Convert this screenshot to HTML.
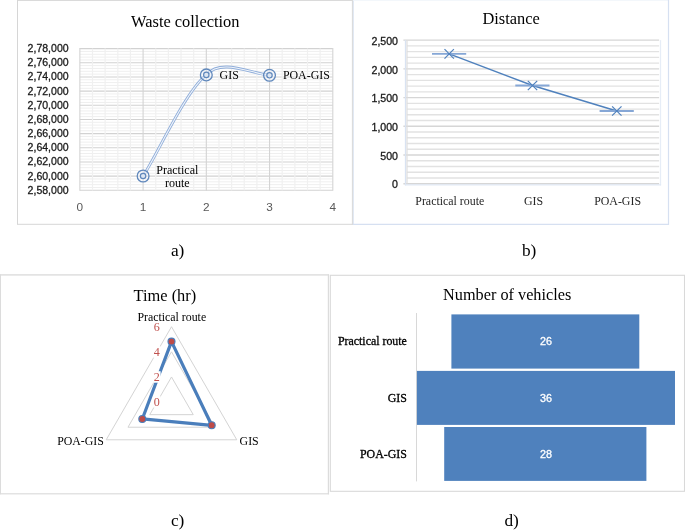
<!DOCTYPE html>
<html lang="en"><head><meta charset="utf-8"><title>Figure</title>
<style>html,body{margin:0;padding:0;background:#fff;}body{width:685px;height:530px;overflow:hidden;}svg{display:block;}.s{font-family:"Liberation Serif",serif;}.n{font-family:"Liberation Sans",sans-serif;}</style></head><body>
<svg width="685" height="530" viewBox="0 0 685 530">
<rect width="685" height="530" fill="#fff"/>
<g id="chart-a">
<path d="M17.5,0.4 H352.4 M17.5,0 V224.3 M17,224.3 H352.9 M352.4,0 V224.8" fill="none" stroke="#d6d6d6" stroke-width="1"/>
<line x1="79.85" y1="48.60" x2="332.80" y2="48.60" stroke="#d2d2d2" stroke-width="1.1" />
<line x1="79.85" y1="62.77" x2="332.80" y2="62.77" stroke="#d2d2d2" stroke-width="1.1" />
<line x1="79.85" y1="76.94" x2="332.80" y2="76.94" stroke="#d2d2d2" stroke-width="1.1" />
<line x1="79.85" y1="91.11" x2="332.80" y2="91.11" stroke="#d2d2d2" stroke-width="1.1" />
<line x1="79.85" y1="105.28" x2="332.80" y2="105.28" stroke="#d2d2d2" stroke-width="1.1" />
<line x1="79.85" y1="119.45" x2="332.80" y2="119.45" stroke="#d2d2d2" stroke-width="1.1" />
<line x1="79.85" y1="133.62" x2="332.80" y2="133.62" stroke="#d2d2d2" stroke-width="1.1" />
<line x1="79.85" y1="147.79" x2="332.80" y2="147.79" stroke="#d2d2d2" stroke-width="1.1" />
<line x1="79.85" y1="161.96" x2="332.80" y2="161.96" stroke="#d2d2d2" stroke-width="1.1" />
<line x1="79.85" y1="176.13" x2="332.80" y2="176.13" stroke="#d2d2d2" stroke-width="1.1" />
<line x1="79.85" y1="190.30" x2="332.80" y2="190.30" stroke="#d2d2d2" stroke-width="1.1" />
<line x1="79.85" y1="51.43" x2="332.80" y2="51.43" stroke="#efefef" stroke-width="1.0" />
<line x1="79.85" y1="54.27" x2="332.80" y2="54.27" stroke="#efefef" stroke-width="1.0" />
<line x1="79.85" y1="57.10" x2="332.80" y2="57.10" stroke="#efefef" stroke-width="1.0" />
<line x1="79.85" y1="59.94" x2="332.80" y2="59.94" stroke="#efefef" stroke-width="1.0" />
<line x1="79.85" y1="65.60" x2="332.80" y2="65.60" stroke="#efefef" stroke-width="1.0" />
<line x1="79.85" y1="68.44" x2="332.80" y2="68.44" stroke="#efefef" stroke-width="1.0" />
<line x1="79.85" y1="71.27" x2="332.80" y2="71.27" stroke="#efefef" stroke-width="1.0" />
<line x1="79.85" y1="74.11" x2="332.80" y2="74.11" stroke="#efefef" stroke-width="1.0" />
<line x1="79.85" y1="79.77" x2="332.80" y2="79.77" stroke="#efefef" stroke-width="1.0" />
<line x1="79.85" y1="82.61" x2="332.80" y2="82.61" stroke="#efefef" stroke-width="1.0" />
<line x1="79.85" y1="85.44" x2="332.80" y2="85.44" stroke="#efefef" stroke-width="1.0" />
<line x1="79.85" y1="88.28" x2="332.80" y2="88.28" stroke="#efefef" stroke-width="1.0" />
<line x1="79.85" y1="93.94" x2="332.80" y2="93.94" stroke="#efefef" stroke-width="1.0" />
<line x1="79.85" y1="96.78" x2="332.80" y2="96.78" stroke="#efefef" stroke-width="1.0" />
<line x1="79.85" y1="99.61" x2="332.80" y2="99.61" stroke="#efefef" stroke-width="1.0" />
<line x1="79.85" y1="102.45" x2="332.80" y2="102.45" stroke="#efefef" stroke-width="1.0" />
<line x1="79.85" y1="108.11" x2="332.80" y2="108.11" stroke="#efefef" stroke-width="1.0" />
<line x1="79.85" y1="110.95" x2="332.80" y2="110.95" stroke="#efefef" stroke-width="1.0" />
<line x1="79.85" y1="113.78" x2="332.80" y2="113.78" stroke="#efefef" stroke-width="1.0" />
<line x1="79.85" y1="116.62" x2="332.80" y2="116.62" stroke="#efefef" stroke-width="1.0" />
<line x1="79.85" y1="122.28" x2="332.80" y2="122.28" stroke="#efefef" stroke-width="1.0" />
<line x1="79.85" y1="125.12" x2="332.80" y2="125.12" stroke="#efefef" stroke-width="1.0" />
<line x1="79.85" y1="127.95" x2="332.80" y2="127.95" stroke="#efefef" stroke-width="1.0" />
<line x1="79.85" y1="130.79" x2="332.80" y2="130.79" stroke="#efefef" stroke-width="1.0" />
<line x1="79.85" y1="136.45" x2="332.80" y2="136.45" stroke="#efefef" stroke-width="1.0" />
<line x1="79.85" y1="139.29" x2="332.80" y2="139.29" stroke="#efefef" stroke-width="1.0" />
<line x1="79.85" y1="142.12" x2="332.80" y2="142.12" stroke="#efefef" stroke-width="1.0" />
<line x1="79.85" y1="144.96" x2="332.80" y2="144.96" stroke="#efefef" stroke-width="1.0" />
<line x1="79.85" y1="150.62" x2="332.80" y2="150.62" stroke="#efefef" stroke-width="1.0" />
<line x1="79.85" y1="153.46" x2="332.80" y2="153.46" stroke="#efefef" stroke-width="1.0" />
<line x1="79.85" y1="156.29" x2="332.80" y2="156.29" stroke="#efefef" stroke-width="1.0" />
<line x1="79.85" y1="159.13" x2="332.80" y2="159.13" stroke="#efefef" stroke-width="1.0" />
<line x1="79.85" y1="164.79" x2="332.80" y2="164.79" stroke="#efefef" stroke-width="1.0" />
<line x1="79.85" y1="167.63" x2="332.80" y2="167.63" stroke="#efefef" stroke-width="1.0" />
<line x1="79.85" y1="170.46" x2="332.80" y2="170.46" stroke="#efefef" stroke-width="1.0" />
<line x1="79.85" y1="173.30" x2="332.80" y2="173.30" stroke="#efefef" stroke-width="1.0" />
<line x1="79.85" y1="178.96" x2="332.80" y2="178.96" stroke="#efefef" stroke-width="1.0" />
<line x1="79.85" y1="181.80" x2="332.80" y2="181.80" stroke="#efefef" stroke-width="1.0" />
<line x1="79.85" y1="184.63" x2="332.80" y2="184.63" stroke="#efefef" stroke-width="1.0" />
<line x1="79.85" y1="187.47" x2="332.80" y2="187.47" stroke="#efefef" stroke-width="1.0" />
<line x1="92.50" y1="48.60" x2="92.50" y2="190.30" stroke="#f0f0f0" stroke-width="1.2" />
<line x1="105.14" y1="48.60" x2="105.14" y2="190.30" stroke="#f0f0f0" stroke-width="1.2" />
<line x1="117.79" y1="48.60" x2="117.79" y2="190.30" stroke="#f0f0f0" stroke-width="1.2" />
<line x1="130.44" y1="48.60" x2="130.44" y2="190.30" stroke="#f0f0f0" stroke-width="1.2" />
<line x1="155.74" y1="48.60" x2="155.74" y2="190.30" stroke="#f0f0f0" stroke-width="1.2" />
<line x1="168.38" y1="48.60" x2="168.38" y2="190.30" stroke="#f0f0f0" stroke-width="1.2" />
<line x1="181.03" y1="48.60" x2="181.03" y2="190.30" stroke="#f0f0f0" stroke-width="1.2" />
<line x1="193.68" y1="48.60" x2="193.68" y2="190.30" stroke="#f0f0f0" stroke-width="1.2" />
<line x1="218.97" y1="48.60" x2="218.97" y2="190.30" stroke="#f0f0f0" stroke-width="1.2" />
<line x1="231.62" y1="48.60" x2="231.62" y2="190.30" stroke="#f0f0f0" stroke-width="1.2" />
<line x1="244.27" y1="48.60" x2="244.27" y2="190.30" stroke="#f0f0f0" stroke-width="1.2" />
<line x1="256.91" y1="48.60" x2="256.91" y2="190.30" stroke="#f0f0f0" stroke-width="1.2" />
<line x1="282.21" y1="48.60" x2="282.21" y2="190.30" stroke="#f0f0f0" stroke-width="1.2" />
<line x1="294.86" y1="48.60" x2="294.86" y2="190.30" stroke="#f0f0f0" stroke-width="1.2" />
<line x1="307.50" y1="48.60" x2="307.50" y2="190.30" stroke="#f0f0f0" stroke-width="1.2" />
<line x1="320.15" y1="48.60" x2="320.15" y2="190.30" stroke="#f0f0f0" stroke-width="1.2" />
<line x1="79.85" y1="48.10" x2="79.85" y2="190.80" stroke="#d4d4d4" stroke-width="1.1" />
<line x1="143.09" y1="48.10" x2="143.09" y2="190.80" stroke="#d4d4d4" stroke-width="1.1" />
<line x1="206.32" y1="48.10" x2="206.32" y2="190.80" stroke="#d4d4d4" stroke-width="1.1" />
<line x1="269.56" y1="48.10" x2="269.56" y2="190.80" stroke="#d4d4d4" stroke-width="1.1" />
<line x1="332.80" y1="48.10" x2="332.80" y2="190.80" stroke="#d4d4d4" stroke-width="1.1" />
<text class="n" x="68.60" y="52.00" font-size="10.8" text-anchor="end" fill="#1a1a1a" textLength="41" lengthAdjust="spacingAndGlyphs" stroke="#1a1a1a" stroke-width="0.3" >2,78,000</text>
<text class="n" x="68.60" y="66.17" font-size="10.8" text-anchor="end" fill="#1a1a1a" textLength="41" lengthAdjust="spacingAndGlyphs" stroke="#1a1a1a" stroke-width="0.3" >2,76,000</text>
<text class="n" x="68.60" y="80.34" font-size="10.8" text-anchor="end" fill="#1a1a1a" textLength="41" lengthAdjust="spacingAndGlyphs" stroke="#1a1a1a" stroke-width="0.3" >2,74,000</text>
<text class="n" x="68.60" y="94.51" font-size="10.8" text-anchor="end" fill="#1a1a1a" textLength="41" lengthAdjust="spacingAndGlyphs" stroke="#1a1a1a" stroke-width="0.3" >2,72,000</text>
<text class="n" x="68.60" y="108.68" font-size="10.8" text-anchor="end" fill="#1a1a1a" textLength="41" lengthAdjust="spacingAndGlyphs" stroke="#1a1a1a" stroke-width="0.3" >2,70,000</text>
<text class="n" x="68.60" y="122.85" font-size="10.8" text-anchor="end" fill="#1a1a1a" textLength="41" lengthAdjust="spacingAndGlyphs" stroke="#1a1a1a" stroke-width="0.3" >2,68,000</text>
<text class="n" x="68.60" y="137.02" font-size="10.8" text-anchor="end" fill="#1a1a1a" textLength="41" lengthAdjust="spacingAndGlyphs" stroke="#1a1a1a" stroke-width="0.3" >2,66,000</text>
<text class="n" x="68.60" y="151.19" font-size="10.8" text-anchor="end" fill="#1a1a1a" textLength="41" lengthAdjust="spacingAndGlyphs" stroke="#1a1a1a" stroke-width="0.3" >2,64,000</text>
<text class="n" x="68.60" y="165.36" font-size="10.8" text-anchor="end" fill="#1a1a1a" textLength="41" lengthAdjust="spacingAndGlyphs" stroke="#1a1a1a" stroke-width="0.3" >2,62,000</text>
<text class="n" x="68.60" y="179.53" font-size="10.8" text-anchor="end" fill="#1a1a1a" textLength="41" lengthAdjust="spacingAndGlyphs" stroke="#1a1a1a" stroke-width="0.3" >2,60,000</text>
<text class="n" x="68.60" y="193.70" font-size="10.8" text-anchor="end" fill="#1a1a1a" textLength="41" lengthAdjust="spacingAndGlyphs" stroke="#1a1a1a" stroke-width="0.3" >2,58,000</text>
<text class="n" x="79.85" y="211.40" font-size="11.8" text-anchor="middle" fill="#595959" >0</text>
<text class="n" x="143.09" y="211.40" font-size="11.8" text-anchor="middle" fill="#595959" >1</text>
<text class="n" x="206.32" y="211.40" font-size="11.8" text-anchor="middle" fill="#595959" >2</text>
<text class="n" x="269.56" y="211.40" font-size="11.8" text-anchor="middle" fill="#595959" >3</text>
<text class="n" x="332.80" y="211.40" font-size="11.8" text-anchor="middle" fill="#595959" >4</text>
<text class="s" x="185.30" y="26.80" font-size="16.4" text-anchor="middle" fill="#000" >Waste collection</text>
<path d="M143.1,176.0 C155.2,158.7 185.2,91.4 206.3,74.9 C221,58 250,73.1 269.5,75.3" fill="none" stroke="#8fadd9" stroke-width="2.8"/>
<path d="M143.1,176.0 C155.2,158.7 185.2,91.4 206.3,74.9 C221,58 250,73.1 269.5,75.3" fill="none" stroke="#f1f5fb" stroke-width="1.1"/>
<circle cx="143.1" cy="176.0" r="5.9" fill="#eef2f9" fill-opacity="0.5" stroke="#6088bc" stroke-width="1.3"/>
<circle cx="143.1" cy="176.0" r="2.7" fill="#dde6f2" stroke="#6088bc" stroke-width="1.2"/>
<circle cx="206.3" cy="74.9" r="5.9" fill="#eef2f9" fill-opacity="0.5" stroke="#6088bc" stroke-width="1.3"/>
<circle cx="206.3" cy="74.9" r="2.7" fill="#dde6f2" stroke="#6088bc" stroke-width="1.2"/>
<circle cx="269.5" cy="75.3" r="5.9" fill="#eef2f9" fill-opacity="0.5" stroke="#6088bc" stroke-width="1.3"/>
<circle cx="269.5" cy="75.3" r="2.7" fill="#dde6f2" stroke="#6088bc" stroke-width="1.2"/>
<text class="s" x="177.30" y="173.60" font-size="12.05" text-anchor="middle" fill="#000" >Practical</text>
<text class="s" x="177.30" y="187.30" font-size="12.05" text-anchor="middle" fill="#000" >route</text>
<text class="s" x="219.60" y="78.90" font-size="11.9" text-anchor="start" fill="#000" >GIS</text>
<text class="s" x="282.90" y="78.90" font-size="11.9" text-anchor="start" fill="#000" >POA-GIS</text>
<text class="s" x="177.60" y="255.80" font-size="17.3" text-anchor="middle" fill="#000" >a)</text>
</g>
<g id="chart-b">
<path d="M353.4,0 V224.3" fill="none" stroke="#dfe7f3" stroke-width="1"/>
<path d="M353,0.3 H668.5" fill="none" stroke="#f1f5fa" stroke-width="1"/>
<path d="M668.5,0 V224.8 M352.9,224.3 H669" fill="none" stroke="#d6e0f1" stroke-width="1.2"/>
<line x1="406.90" y1="45.89" x2="659.10" y2="45.89" stroke="#e2e2e2" stroke-width="1.4" />
<line x1="406.90" y1="51.64" x2="659.10" y2="51.64" stroke="#e2e2e2" stroke-width="1.4" />
<line x1="406.90" y1="57.38" x2="659.10" y2="57.38" stroke="#e2e2e2" stroke-width="1.4" />
<line x1="406.90" y1="63.13" x2="659.10" y2="63.13" stroke="#e2e2e2" stroke-width="1.4" />
<line x1="406.90" y1="74.61" x2="659.10" y2="74.61" stroke="#e2e2e2" stroke-width="1.4" />
<line x1="406.90" y1="80.36" x2="659.10" y2="80.36" stroke="#e2e2e2" stroke-width="1.4" />
<line x1="406.90" y1="86.10" x2="659.10" y2="86.10" stroke="#e2e2e2" stroke-width="1.4" />
<line x1="406.90" y1="91.85" x2="659.10" y2="91.85" stroke="#e2e2e2" stroke-width="1.4" />
<line x1="406.90" y1="103.33" x2="659.10" y2="103.33" stroke="#e2e2e2" stroke-width="1.4" />
<line x1="406.90" y1="109.08" x2="659.10" y2="109.08" stroke="#e2e2e2" stroke-width="1.4" />
<line x1="406.90" y1="114.82" x2="659.10" y2="114.82" stroke="#e2e2e2" stroke-width="1.4" />
<line x1="406.90" y1="120.57" x2="659.10" y2="120.57" stroke="#e2e2e2" stroke-width="1.4" />
<line x1="406.90" y1="132.05" x2="659.10" y2="132.05" stroke="#e2e2e2" stroke-width="1.4" />
<line x1="406.90" y1="137.80" x2="659.10" y2="137.80" stroke="#e2e2e2" stroke-width="1.4" />
<line x1="406.90" y1="143.54" x2="659.10" y2="143.54" stroke="#e2e2e2" stroke-width="1.4" />
<line x1="406.90" y1="149.29" x2="659.10" y2="149.29" stroke="#e2e2e2" stroke-width="1.4" />
<line x1="406.90" y1="160.77" x2="659.10" y2="160.77" stroke="#e2e2e2" stroke-width="1.4" />
<line x1="406.90" y1="166.52" x2="659.10" y2="166.52" stroke="#e2e2e2" stroke-width="1.4" />
<line x1="406.90" y1="172.26" x2="659.10" y2="172.26" stroke="#e2e2e2" stroke-width="1.4" />
<line x1="406.90" y1="178.01" x2="659.10" y2="178.01" stroke="#e2e2e2" stroke-width="1.4" />
<line x1="403.40" y1="40.15" x2="659.10" y2="40.15" stroke="#d6d6d6" stroke-width="1.4" />
<line x1="403.40" y1="68.87" x2="659.10" y2="68.87" stroke="#d6d6d6" stroke-width="1.4" />
<line x1="403.40" y1="97.59" x2="659.10" y2="97.59" stroke="#d6d6d6" stroke-width="1.4" />
<line x1="403.40" y1="126.31" x2="659.10" y2="126.31" stroke="#d6d6d6" stroke-width="1.4" />
<line x1="403.40" y1="155.03" x2="659.10" y2="155.03" stroke="#d6d6d6" stroke-width="1.4" />
<line x1="403.40" y1="183.75" x2="659.10" y2="183.75" stroke="#d6d6d6" stroke-width="1.4" />
<line x1="405.50" y1="40.15" x2="405.50" y2="185.40" stroke="#d9e3f2" stroke-width="1.3" />
<line x1="407.00" y1="40.15" x2="407.00" y2="183.75" stroke="#dedede" stroke-width="1.2" />
<line x1="660.50" y1="40.15" x2="660.50" y2="185.40" stroke="#e6edf7" stroke-width="1.3" />
<line x1="404.90" y1="184.90" x2="661.10" y2="184.90" stroke="#e1e9f5" stroke-width="1.4" />
<text class="n" x="398.00" y="44.80" font-size="10.6" text-anchor="end" fill="#1a1a1a" stroke="#1a1a1a" stroke-width="0.3" >2,500</text>
<text class="n" x="398.00" y="73.52" font-size="10.6" text-anchor="end" fill="#1a1a1a" stroke="#1a1a1a" stroke-width="0.3" >2,000</text>
<text class="n" x="398.00" y="102.24" font-size="10.6" text-anchor="end" fill="#1a1a1a" stroke="#1a1a1a" stroke-width="0.3" >1,500</text>
<text class="n" x="398.00" y="130.96" font-size="10.6" text-anchor="end" fill="#1a1a1a" stroke="#1a1a1a" stroke-width="0.3" >1,000</text>
<text class="n" x="398.00" y="159.68" font-size="10.6" text-anchor="end" fill="#1a1a1a" stroke="#1a1a1a" stroke-width="0.3" >500</text>
<text class="n" x="398.00" y="188.40" font-size="10.6" text-anchor="end" fill="#1a1a1a" stroke="#1a1a1a" stroke-width="0.3" >0</text>
<text class="s" x="511.10" y="23.60" font-size="16.4" text-anchor="middle" fill="#000" >Distance</text>
<polyline points="449.2,53.9 532.5,85.5 616.8,111.0" fill="none" stroke="#4f81bd" stroke-width="1.4"/>
<line x1="432.00" y1="53.90" x2="466.20" y2="53.90" stroke="#86a7d6" stroke-width="1.8" />
<line x1="444.50" y1="49.20" x2="453.90" y2="58.60" stroke="#4f81bd" stroke-width="1.2" />
<line x1="444.50" y1="58.60" x2="453.90" y2="49.20" stroke="#4f81bd" stroke-width="1.2" />
<line x1="515.30" y1="85.50" x2="549.50" y2="85.50" stroke="#86a7d6" stroke-width="1.8" />
<line x1="527.80" y1="80.80" x2="537.20" y2="90.20" stroke="#4f81bd" stroke-width="1.2" />
<line x1="527.80" y1="90.20" x2="537.20" y2="80.80" stroke="#4f81bd" stroke-width="1.2" />
<line x1="599.60" y1="111.00" x2="633.80" y2="111.00" stroke="#86a7d6" stroke-width="1.8" />
<line x1="612.10" y1="106.30" x2="621.50" y2="115.70" stroke="#4f81bd" stroke-width="1.2" />
<line x1="612.10" y1="115.70" x2="621.50" y2="106.30" stroke="#4f81bd" stroke-width="1.2" />
<text class="s" x="449.80" y="205.30" font-size="11.9" text-anchor="middle" fill="#262626" >Practical route</text>
<text class="s" x="533.60" y="205.30" font-size="11.9" text-anchor="middle" fill="#262626" >GIS</text>
<text class="s" x="617.60" y="205.30" font-size="11.9" text-anchor="middle" fill="#262626" >POA-GIS</text>
<text class="s" x="529.10" y="256.00" font-size="17.3" text-anchor="middle" fill="#000" >b)</text>
</g>
<g id="chart-c">
<path d="M0,274.9 H329.1 M0,493.8 H329.1" fill="none" stroke="#e3e3e3" stroke-width="1.6"/>
<path d="M0.4,274.5 V494.2 M328.4,274.5 V494.2" fill="none" stroke="#dcdcdc" stroke-width="1.2"/>
<polygon points="171.50,376.98 193.26,414.66 149.74,414.66" fill="none" stroke="#d4d4d4" stroke-width="1"/>
<polygon points="171.50,351.85 215.01,427.22 127.99,427.22" fill="none" stroke="#d4d4d4" stroke-width="1"/>
<polygon points="171.50,326.73 236.77,439.79 106.23,439.79" fill="none" stroke="#d4d4d4" stroke-width="1"/>
<polygon points="171.50,341.60 211.68,425.30 142.31,418.95" fill="none" stroke="#4a7ebb" stroke-width="3.2" stroke-linejoin="round"/>
<circle cx="171.50" cy="341.60" r="3.5" fill="#be4b48" stroke="#4a7ebb" stroke-width="1.1"/>
<circle cx="211.68" cy="425.30" r="3.5" fill="#be4b48" stroke="#4a7ebb" stroke-width="1.1"/>
<circle cx="142.31" cy="418.95" r="3.5" fill="#be4b48" stroke="#4a7ebb" stroke-width="1.1"/>
<rect x="153.2" y="321.30" width="7.4" height="11.5" fill="#fff"/>
<text class="s" x="159.70" y="330.80" font-size="12.05" text-anchor="end" fill="#c0504d" >6</text>
<rect x="153.2" y="346.25" width="7.4" height="11.5" fill="#fff"/>
<text class="s" x="159.70" y="355.75" font-size="12.05" text-anchor="end" fill="#c0504d" >4</text>
<rect x="153.2" y="371.20" width="7.4" height="11.5" fill="#fff"/>
<text class="s" x="159.70" y="380.70" font-size="12.05" text-anchor="end" fill="#c0504d" >2</text>
<rect x="153.2" y="396.15" width="7.4" height="11.5" fill="#fff"/>
<text class="s" x="159.70" y="405.65" font-size="12.05" text-anchor="end" fill="#c0504d" >0</text>
<text class="s" x="164.90" y="301.40" font-size="16.4" text-anchor="middle" fill="#000" >Time (hr)</text>
<text class="s" x="171.80" y="320.80" font-size="11.85" text-anchor="middle" fill="#000" >Practical route</text>
<text class="s" x="103.90" y="444.50" font-size="11.85" text-anchor="end" fill="#000" >POA-GIS</text>
<text class="s" x="239.60" y="444.50" font-size="11.85" text-anchor="start" fill="#000" >GIS</text>
<text class="s" x="177.60" y="525.70" font-size="17.3" text-anchor="middle" fill="#000" >c)</text>
</g>
<g id="chart-d">
<rect x="330.3" y="275.3" width="354.2" height="216.0" fill="#fff" stroke="#d9d9d9" stroke-width="1.1"/>
<line x1="416.50" y1="313.00" x2="416.50" y2="481.40" stroke="#d8d8d8" stroke-width="1" />
<rect x="451.4" y="314.4" width="187.90" height="54.20" fill="#4f81bd"/>
<text class="n" x="546.00" y="345.10" font-size="10.8" text-anchor="middle" fill="#fff" stroke="#fff" stroke-width="0.3" >26</text>
<rect x="416.9" y="370.9" width="258.10" height="54.00" fill="#4f81bd"/>
<text class="n" x="546.00" y="401.50" font-size="10.8" text-anchor="middle" fill="#fff" stroke="#fff" stroke-width="0.3" >36</text>
<rect x="444.2" y="427.0" width="202.20" height="53.90" fill="#4f81bd"/>
<text class="n" x="546.00" y="458.00" font-size="10.8" text-anchor="middle" fill="#fff" stroke="#fff" stroke-width="0.3" >28</text>
<text class="s" x="507.20" y="299.50" font-size="16.25" text-anchor="middle" fill="#000" >Number of vehicles</text>
<text class="s" x="406.90" y="345.00" font-size="11.9" text-anchor="end" fill="#000" stroke="#000" stroke-width="0.3">Practical route</text>
<text class="s" x="406.90" y="401.90" font-size="11.9" text-anchor="end" fill="#000" stroke="#000" stroke-width="0.3">GIS</text>
<text class="s" x="406.90" y="458.40" font-size="11.9" text-anchor="end" fill="#000" stroke="#000" stroke-width="0.3">POA-GIS</text>
<text class="s" x="511.60" y="525.80" font-size="17.3" text-anchor="middle" fill="#000" >d)</text>
</g>
</svg></body></html>
